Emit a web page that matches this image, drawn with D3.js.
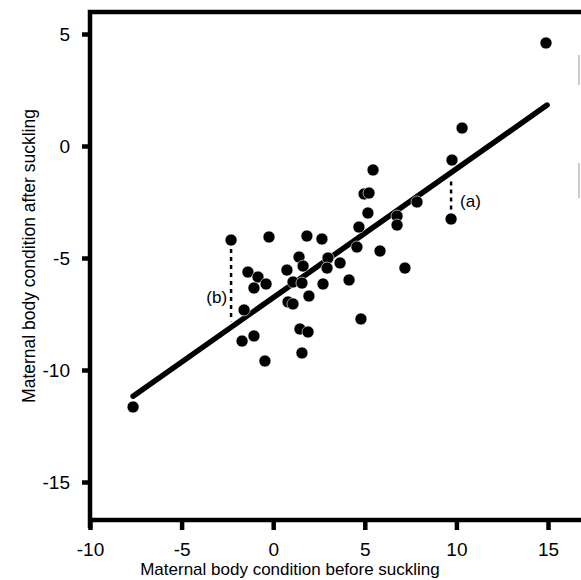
<!DOCTYPE html>
<html>
<head>
<meta charset="utf-8">
<script src="https://cdn.jsdelivr.net/npm/d3@7"></script>
<style>
  html, body { margin: 0; padding: 0; background: #fff; }
  svg { display: block; }
  text { font-family: "Liberation Sans", Arial, Helvetica, sans-serif; fill: #000; }
</style>
</head>
<body>
<svg id="chart" width="581" height="580"></svg>
<script>
// ---- data ----
const beforeSuckling = [14.89, 10.31, 9.76, 5.45, 4.96, 5.23, 5.17, 7.85, 6.76, 6.76,
  9.71, 4.68, 1.84, 2.66, 4.57, 5.83, 1.41, 2.99, 1.63, 2.94,
  3.65, 4.14, 1.08, 1.57, 2.72, 1.95, 0.81, 1.08, 7.19, 4.79,
  1.46, 1.90, 1.57, -2.30, -0.23, -1.38, -0.83, -0.39, -1.05, 0.75,
  -1.59, -1.70, -1.05, -0.45, -7.65];
const afterSuckling = [4.60, 0.80, -0.63, -1.07, -2.14, -2.10, -2.99, -2.50, -3.13, -3.53,
  -3.26, -3.62, -4.02, -4.15, -4.51, -4.69, -4.96, -5.00, -5.36, -5.45,
  -5.22, -5.98, -6.07, -6.12, -6.16, -6.70, -6.96, -7.05, -5.45, -7.72,
  -8.17, -8.30, -9.24, -4.20, -4.06, -5.63, -5.85, -6.16, -6.34, -5.54,
  -7.32, -8.71, -8.48, -9.60, -11.65];
const xTicks = [-10, -5, 0, 5, 10, 15];
const yTicks = [5, 0, -5, -10, -15];
const fitLineX = [-7.65, 14.95];
const fitSlope = 0.575;
const fitIntercept = -6.77;
const residualNotes = [
  { label: "(a)", x: 9.71, y: -3.26, labelY: -2.45, side: "right" },
  { label: "(b)", x: -2.30, y: -4.20, labelY: -6.75, side: "left" }
];
const xTitle = "Maternal body condition before suckling";
const yTitle = "Maternal body condition after suckling";

// ---- scales ----
const x = d3.scaleLinear().domain([-10, 15]).range([90, 548]);
const y = d3.scaleLinear().domain([-15, 5]).range([482, 34]);
const fit = v => fitIntercept + fitSlope * v;

const svg = d3.select("#chart");
const FONT = "'Liberation Sans', Arial, Helvetica, sans-serif";

// frame
const frameTop = 12, frameBottom = 520, frameLeft = 90, frameRight = 640;
svg.append("path")
  .attr("d", `M${frameRight},${frameTop} H${frameLeft} V${frameBottom + 8} M${frameLeft},${frameBottom} H${frameRight}`)
  .attr("fill", "none").attr("stroke", "#000").attr("stroke-width", 4.5);

// axes via d3 axis generators
const yAxis = d3.axisLeft(y).tickValues(yTicks).tickSize(8).tickPadding(12)
  .tickFormat(d => String(d));
const gy = svg.append("g").attr("transform", `translate(${frameLeft},0)`).call(yAxis);
gy.attr("font-size", null).attr("font-family", null);
gy.select(".domain").remove();
gy.selectAll(".tick line").attr("stroke", "#000").attr("stroke-width", 4.5);
gy.selectAll(".tick text").style("font-size", "19px").style("font-family", FONT);

const xAxis = d3.axisBottom(x).tickValues(xTicks).tickSize(10).tickPadding(13)
  .tickFormat(d => String(d));
const gx = svg.append("g").attr("transform", `translate(0,${frameBottom})`).call(xAxis);
gx.attr("font-size", null).attr("font-family", null);
gx.select(".domain").remove();
gx.selectAll(".tick line").attr("stroke", "#000").attr("stroke-width", 4.5);
gx.selectAll(".tick text").style("font-size", "19px").style("font-family", FONT);

// axis titles
svg.append("text")
  .attr("x", 290).attr("y", 575)
  .attr("text-anchor", "middle").style("font-size", "17px")
  .text(xTitle);
svg.append("text")
  .attr("transform", `translate(35,256) rotate(-90)`)
  .attr("text-anchor", "middle").style("font-size", "17.5px")
  .text(yTitle);

// residual dotted lines + labels
residualNotes.forEach(n => {
  const y0 = y(n.y), y1 = y(fit(n.x));
  const top = Math.min(y0, y1) + 9, bot = Math.max(y0, y1) - 6;
  svg.append("line")
    .attr("x1", x(n.x)).attr("x2", x(n.x))
    .attr("y1", top).attr("y2", bot)
    .attr("stroke", "#000").attr("stroke-width", 2.5)
    .attr("stroke-dasharray", "4,4");
  svg.append("text")
    .attr("x", n.side === "right" ? x(n.x) + 9 : x(n.x) - 4)
    .attr("y", y(n.labelY))
    .attr("dy", "0.35em")
    .attr("text-anchor", n.side === "right" ? "start" : "end")
    .style("font-size", "17px")
    .text(n.label);
});

// regression line
svg.append("line")
  .attr("x1", x(fitLineX[0])).attr("y1", y(fit(fitLineX[0])))
  .attr("x2", x(fitLineX[1])).attr("y2", y(fit(fitLineX[1])))
  .attr("stroke", "#000").attr("stroke-width", 5.5)
  .attr("stroke-linecap", "round");

// points
const pts = beforeSuckling.map((b, i) => ({ b, a: afterSuckling[i] }));
svg.append("g").selectAll("circle").data(pts).join("circle")
  .attr("cx", d => x(d.b)).attr("cy", d => y(d.a))
  .attr("r", 6)
  .attr("fill", "#000").attr("stroke", "#fff").attr("stroke-width", 0.6);

// faint marks at the right edge (partial edge of neighbouring panel)
[[55, 85], [163, 198]].forEach(([a, b]) => {
  svg.append("line").attr("x1", 579).attr("x2", 579).attr("y1", a).attr("y2", b)
    .attr("stroke", "#bbb").attr("stroke-width", 1.5);
});
</script>
</body>
</html>
